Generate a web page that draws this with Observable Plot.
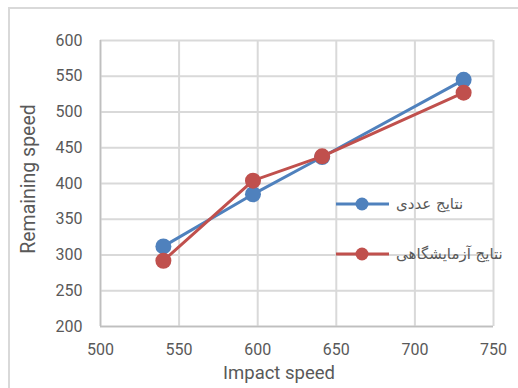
<!DOCTYPE html>
<html>
<head>
<meta charset="utf-8">
<script src="https://cdn.jsdelivr.net/npm/d3@7"></script>
<script src="https://cdn.jsdelivr.net/npm/@observablehq/plot@0.6"></script>
<style>
  html, body { margin: 0; padding: 0; background: #fff; }
  #chart { position: relative; width: 518px; height: 388px; overflow: hidden; background: #fff;
           font-family: Roboto, "DejaVu Sans", sans-serif; color: #595959; }
  #frame { position: absolute; left: 8px; top: 7px; width: 530px; height: 400px;
           border: 2px solid #d9d9d9; box-sizing: border-box; }
  #chart svg.plot { position: absolute; left: 0; top: 0; }
  .title { position: absolute; font-size: 18.5px; white-space: nowrap; }
  #xtitle { left: 279px; top: 373px; transform: translate(-50%, -50%); }
  #ytitle { left: 28px; top: 179px; font-size: 19.5px; transform: translate(-50%, -50%) rotate(-90deg); }
  .legend { position: absolute; left: 336px; display: flex; align-items: center; font-size: 15px;
            font-family: "DejaVu Sans", sans-serif; }
  .legend span { margin-left: 7px; direction: rtl; }
</style>
</head>
<body>
<div id="chart">
  <div id="frame"></div>
</div>
<script>
// Impact speed vs remaining speed: numerical and experimental results
const impactSpeed = [540, 597, 641, 731];
const numericalSpeed = [312, 385, 437, 545];
const experimentalSpeed = [292, 404, 438, 527];
const seriesNames = ["نتایج عددی", "نتایج آزمایشگاهی"];
const seriesColors = ["#4f81bd", "#c0504d"];
const xTicks = [500, 550, 600, 650, 700, 750];
const yTicks = [200, 250, 300, 350, 400, 450, 500, 550, 600];

const series = [numericalSpeed, experimentalSpeed].map((vals, k) =>
  impactSpeed.map((x, i) => ({x, y: vals[i], name: seriesNames[k]}))
);

const seriesMarks = series.flatMap((rows, k) => [
  Plot.line(rows, {x: "x", y: "y", stroke: seriesColors[k], strokeWidth: 3}),
  Plot.dot(rows, {x: "x", y: "y", r: 8, fill: seriesColors[k], stroke: "none"})
]);

const plot = Plot.plot({
  width: 518,
  height: 388,
  marginLeft: 100,
  marginRight: 25,
  marginTop: 40,
  marginBottom: 62,
  style: {fontFamily: "Roboto, sans-serif", fontSize: "16px", color: "#595959", background: "transparent"},
  x: {domain: [500, 750]},
  y: {domain: [200, 600]},
  marks: [
    Plot.gridX(xTicks, {stroke: "#d9d9d9", strokeWidth: 2, strokeOpacity: 1}),
    Plot.gridY(yTicks, {stroke: "#d9d9d9", strokeWidth: 2, strokeOpacity: 1}),
    Plot.ruleX([500], {stroke: "#bfbfbf", strokeWidth: 1.5}),
    Plot.ruleY([200], {stroke: "#bfbfbf", strokeWidth: 1.5}),
    Plot.axisX(xTicks, {tickSize: 0, tickPadding: 17, label: null, fill: "#595959"}),
    Plot.axisY(yTicks, {tickSize: 0, tickPadding: 18, label: null, fill: "#595959"}),
    ...seriesMarks
  ]
});
plot.classList.add("plot");
const chart = document.getElementById("chart");
chart.appendChild(plot);

function addText(id, text) {
  const d = document.createElement("div");
  d.className = "title"; d.id = id; d.textContent = text;
  chart.appendChild(d);
}
addText("xtitle", "Impact speed");
addText("ytitle", "Remaining speed");

// legend placed inside the plot area, right side
const legendTops = [204, 254];
seriesNames.forEach((name, k) => {
  const row = document.createElement("div");
  row.className = "legend";
  row.style.top = (legendTops[k] - 10) + "px";
  row.style.height = "20px";
  row.innerHTML = `<svg width="53" height="20"><line x1="0" x2="53" y1="10" y2="10" stroke="${seriesColors[k]}" stroke-width="3"/><circle cx="26" cy="10" r="6.5" fill="${seriesColors[k]}"/></svg><span></span>`;
  row.querySelector("span").textContent = name;
  chart.appendChild(row);
});
</script>
</body>
</html>
